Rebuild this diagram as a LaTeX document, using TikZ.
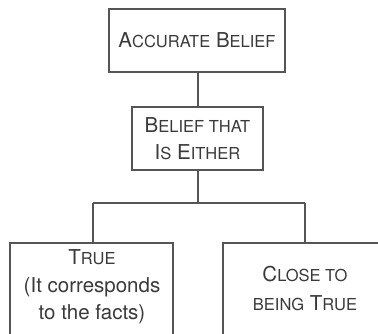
\documentclass[tikz,border=0pt]{standalone}
\usepackage{fontspec}
\setmainfont{TeX Gyre Heros}
% hand-made small capitals: the rest of a word in a smaller size
\newcommand\smc[1]{{\fontsize{16.5}{16.5}\selectfont #1}}
\definecolor{ink}{HTML}{3A3A3A}
\definecolor{rulegray}{HTML}{555555}

\begin{document}
\begin{tikzpicture}[x=1pt,y=-1pt,
  box/.style={draw=rulegray, line width=1.4pt, inner sep=0pt},
  caption/.style={text=ink, align=center, inner sep=0pt,
                  font=\fontsize{20.5}{27.5}\selectfont},
  link/.style={draw=rulegray, line width=1.4pt}]
\useasboundingbox (0,0) rectangle (378,334);
\clip (0,0) rectangle (378,334);
\fill[white] (0,0) rectangle (378,334);

% upper boxes
\node[box, caption, minimum width=176pt, minimum height=63pt] (top) at (197,40.5)
  {A\smc{CCURATE} B\smc{ELIEF}};
\node[box, caption, minimum width=131pt, minimum height=63pt] (mid) at (197.5,138.5)
  {B\smc{ELIEF THAT}\\I\smc{S} E\smc{ITHER}};

% lower boxes (run past the lower and right edges)
\node[box, minimum width=163pt, minimum height=110pt] (trueBox) at (91.5,298) {};
\node[caption] (trueText) at (92,287)
  {T\smc{RUE}\\(It corresponds\\to the facts)};
\node[box, minimum width=164pt, minimum height=110pt] (closeBox) at (305,298) {};
\node[caption, font=\fontsize{20.5}{28.3}\selectfont] (closeText) at (305,288.5)
  {C\smc{LOSE TO}\\\smc{BEING} T\smc{RUE}};

% connectors
\coordinate (split) at (198,203);
\coordinate (jl) at (93,203);
\coordinate (jr) at (305,203);
\draw[link] (top.south -| split) -- (split |- mid.north);
\draw[link] (mid.south -| split) -- (split);
\draw[link] (jl) -- (jr);
\draw[link] (jl) -- (jl |- trueBox.north);
\draw[link] (jr) -- (jr |- closeBox.north);
\end{tikzpicture}
\end{document}
